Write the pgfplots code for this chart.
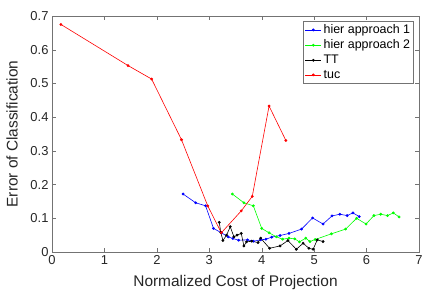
\documentclass[border=0pt]{standalone}
\usepackage{fontspec}
\setmainfont{Liberation Sans}
\usepackage{pgfplots}
\pgfplotsset{compat=1.18}
\begin{document}
\begin{tikzpicture}
\useasboundingbox (-52bp,-41bp) rectangle (374bp,252bp);
\begin{axis}[
 at={(0,0)}, anchor=south west,
 scale only axis, width=367bp, height=236bp,
 xmin=0, xmax=7, ymin=0, ymax=0.7,
 xtick={0,1,2,3,4,5,6,7}, ytick={0,0.1,0.2,0.3,0.4,0.5,0.6,0.7},
 tick align=inside, major tick length=4bp,
 axis line style={black!55, line width=0.5pt},
 tick style={black!55, line width=0.4pt},
 ticklabel style={font=\fontsize{13}{13}\selectfont, text=black!85},
 /pgf/number format/assume math mode=true,
 yticklabel style={/pgf/number format/fixed, /pgf/number format/precision=1},
 xlabel={Normalized Cost of Projection},
 ylabel={Error of Classification},
 label style={font=\fontsize{15.5}{15.5}\selectfont, text=black!85},
 xlabel style={at={(axis description cs:0.5,0)}, anchor=center, yshift=-31bp},
 ylabel style={at={(axis description cs:-0.109,0.5)}, anchor=center, rotate=0},
 legend style={at={(0.986,0.979)}, anchor=north east, draw=black!55,
   font=\fontsize{12.5}{14}\selectfont, inner sep=1.5pt, row sep=0.8pt},
 legend cell align=left,
 legend image code/.code={\draw[mark repeat=2,mark phase=2,#1] plot coordinates {(0bp,0bp) (8bp,0bp) (16bp,0bp)};},
 every axis plot/.append style={line width=0.6pt, mark=*, mark size=1.1pt},
]
\addplot[color=blue] coordinates {
(2.50,0.172)(2.74,0.146)(2.93,0.137)(3.08,0.070)(3.23,0.057)(3.36,0.045)
(3.45,0.040)(3.56,0.035)(3.73,0.036)(3.84,0.032)(3.98,0.036)(4.08,0.038)
(4.19,0.044)(4.35,0.049)(4.52,0.055)(4.76,0.068)(4.97,0.101)(5.17,0.083)
(5.34,0.107)(5.49,0.112)(5.63,0.108)(5.74,0.116)(5.86,0.105)};
\addlegendentry{hier approach 1}
\addplot[color=green] coordinates {
(3.44,0.172)(3.66,0.146)(3.84,0.137)(4.00,0.070)(4.14,0.057)(4.28,0.045)
(4.40,0.038)(4.52,0.041)(4.63,0.039)(4.72,0.030)(4.84,0.041)(4.92,0.031)
(5.02,0.037)(5.33,0.054)(5.60,0.068)(5.81,0.100)(5.99,0.083)(6.14,0.108)
(6.27,0.112)(6.40,0.108)(6.51,0.116)(6.62,0.104)};
\addlegendentry{hier approach 2}
\addplot[color=black] coordinates {
(3.19,0.088)(3.22,0.058)(3.26,0.034)(3.33,0.050)(3.40,0.075)(3.47,0.045)
(3.53,0.050)(3.61,0.055)(3.66,0.018)(3.71,0.030)(3.81,0.032)(3.93,0.028)
(3.98,0.041)(4.15,0.011)(4.35,0.018)(4.50,0.034)(4.66,0.008)(4.79,0.026)
(4.90,0.011)(4.98,0.008)(5.06,0.036)(5.17,0.031)};
\addlegendentry{TT}
\addplot[color=red] coordinates {
(0.17,0.675)(1.45,0.553)(1.90,0.513)(2.47,0.333)(2.97,0.137)(3.23,0.057)
(3.61,0.122)(3.82,0.165)(4.14,0.433)(4.46,0.331)};
\addlegendentry{tuc}
\end{axis}
\end{tikzpicture}
\end{document}
